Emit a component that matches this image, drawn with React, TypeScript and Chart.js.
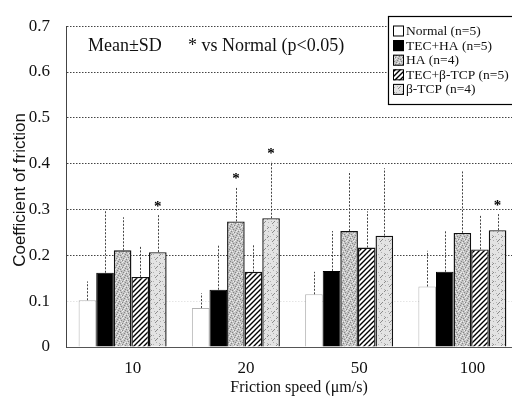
import React, { useEffect, useRef } from 'react';
import { Chart, registerables } from 'chart.js';
Chart.register(...registerables);

const speeds = ['10', '20', '50', '100'];
const seriesNames = ['Normal (n=5)', 'TEC+HA (n=5)', 'HA (n=4)', 'TEC+β-TCP (n=5)', 'β-TCP (n=4)'];
const normalMean = [0.102, 0.085, 0.115, 0.132];
const normalSD = [0.041, 0.032, 0.049, 0.078];
const tecHaMean = [0.162, 0.125, 0.166, 0.164];
const tecHaSD = [0.138, 0.098, 0.087, 0.089];
const haMean = [0.211, 0.274, 0.253, 0.249];
const haSD = [0.072, 0.075, 0.130, 0.134];
const tecTcpMean = [0.153, 0.164, 0.217, 0.213];
const tecTcpSD = [0.067, 0.059, 0.079, 0.075];
const tcpMean = [0.207, 0.281, 0.243, 0.255];
const tcpSD = [0.081, 0.123, 0.147, 0.036];
const normalSig = [false, false, false, false];
const tecHaSig = [false, false, false, false];
const haSig = [false, true, false, false];
const tecTcpSig = [false, false, false, false];
const tcpSig = [true, true, false, true];
const yMin = 0;
const yMax = 0.7;
const yStep = 0.1;
const yTitle = 'Coefficient of friction';
const xTitle = 'Friction speed (μm/s)';
const noteLeft = 'Mean±SD';
const noteRight = '* vs Normal (p<0.05)';

const SERIF = '"Liberation Serif", "Times New Roman", serif';

function makeTile(size: number, draw: (c: CanvasRenderingContext2D) => void): CanvasPattern | string {
  const cv = document.createElement('canvas');
  cv.width = size;
  cv.height = size;
  const c = cv.getContext('2d')!;
  draw(c);
  const ctx2 = document.createElement('canvas').getContext('2d')!;
  return ctx2.createPattern(cv, 'repeat') || '#ccc';
}

function makeStipple() {
  return makeTile(7, (c) => {
    c.fillStyle = '#c4c4c4';
    c.fillRect(0, 0, 7, 7);
    c.fillStyle = '#858585';
    [[0, 0], [3, 1], [1, 3], [5, 4], [2, 5], [6, 2], [4, 6]].forEach(([x, y]) => c.fillRect(x, y, 1, 1));
    c.fillStyle = '#ececec';
    [[2, 1], [5, 0], [0, 4], [3, 3], [6, 6], [1, 6], [4, 2]].forEach(([x, y]) => c.fillRect(x, y, 1, 1));
  });
}

function makeHatch() {
  return makeTile(5, (c) => {
    c.fillStyle = '#ffffff';
    c.fillRect(0, 0, 5, 5);
    c.strokeStyle = '#000';
    c.lineWidth = 1.4;
    c.beginPath();
    c.moveTo(-1, 6); c.lineTo(6, -1);
    c.moveTo(-1, 1); c.lineTo(1, -1);
    c.moveTo(4, 6); c.lineTo(6, 4);
    c.stroke();
  });
}

function makeLightDash() {
  return makeTile(9, (c) => {
    c.fillStyle = '#e3e3e3';
    c.fillRect(0, 0, 9, 9);
    c.fillStyle = '#b0b0b0';
    [[0, 2], [6, 1], [7, 6], [3, 0], [1, 5]].forEach(([x, y]) => c.fillRect(x, y, 1, 1));
    c.strokeStyle = '#8a8a8a';
    c.lineWidth = 1;
    c.beginPath();
    c.moveTo(2, 8); c.lineTo(5, 5);
    c.moveTo(6, 4); c.lineTo(8, 2);
    c.stroke();
  });
}

export default function App() {
  const ref = useRef<HTMLCanvasElement>(null);
  useEffect(() => {
    if (!ref.current) return;
    const means = [normalMean, tecHaMean, haMean, tecTcpMean, tcpMean];
    const sds = [normalSD, tecHaSD, haSD, tecTcpSD, tcpSD];
    const sigs = [normalSig, tecHaSig, haSig, tecTcpSig, tcpSig];
    const fills: any[] = ['#ffffff', '#000000', makeStipple(), makeHatch(), makeLightDash()];
    const borders = ['rgba(0,0,0,0.3)', '#000', '#111', '#111', '#111'];
    const bw = [1, 1, 1.4, 1.4, 1.4];

    const overlay = {
      id: 'overlay',
      afterDatasetsDraw(chart: any) {
        const ctx = chart.ctx;
        const ys = chart.scales.y;
        ctx.save();
        chart.data.datasets.forEach((_: any, i: number) => {
          const meta = chart.getDatasetMeta(i);
          meta.data.forEach((el: any, j: number) => {
            const top = ys.getPixelForValue(means[i][j] + sds[i][j]);
            ctx.strokeStyle = '#444';
            ctx.lineWidth = 1;
            ctx.setLineDash([2, 1.5]);
            ctx.beginPath();
            ctx.moveTo(Math.round(el.x) + 0.5, el.y);
            ctx.lineTo(Math.round(el.x) + 0.5, top);
            ctx.stroke();
            if (sigs[i][j]) {
              ctx.setLineDash([]);
              ctx.fillStyle = '#000';
              ctx.font = 'bold 15px ' + SERIF;
              ctx.textAlign = 'center';
              ctx.textBaseline = 'middle';
              ctx.fillText('*', el.x, top - 8);
            }
          });
        });
        ctx.restore();
      },
      afterDraw(chart: any) {
        const ctx = chart.ctx;
        ctx.save();
        ctx.setLineDash([]);
        ctx.fillStyle = '#111';
        ctx.textBaseline = 'middle';
        ctx.textAlign = 'left';
        ctx.font = '18px ' + SERIF;
        ctx.fillText(noteLeft, 88, 46);
        ctx.fillText(noteRight, 188, 46);
        // x title
        ctx.textAlign = 'center';
        ctx.font = '16px ' + SERIF;
        ctx.fillText(xTitle, 299, 388);
        // y title
        ctx.save();
        ctx.translate(20, 190);
        ctx.rotate(-Math.PI / 2);
        ctx.font = '17px "Liberation Sans", Arial, sans-serif';
        ctx.fillText(yTitle, 0, 0);
        ctx.restore();
        // legend
        const lx = 388, ly = 16, lw = 160, lh = 88;
        ctx.fillStyle = '#fff';
        ctx.fillRect(lx, ly, lw, lh);
        ctx.strokeStyle = '#000';
        ctx.lineWidth = 1.2;
        ctx.strokeRect(lx + 0.5, ly + 0.5, lw, lh);
        ctx.font = '13.5px ' + SERIF;
        ctx.textAlign = 'left';
        seriesNames.forEach((name, i) => {
          const cy = 31 + i * 14.6;
          ctx.fillStyle = fills[i];
          ctx.fillRect(393, cy - 5.5, 11, 11);
          ctx.strokeStyle = '#000';
          ctx.lineWidth = 1;
          ctx.strokeRect(393.5, cy - 5, 10, 10);
          ctx.fillStyle = '#111';
          ctx.fillText(name, 406, cy + 0.5);
        });
        ctx.restore();
      },
    };

    const chart = new Chart(ref.current, {
      type: 'bar',
      data: {
        labels: speeds,
        datasets: seriesNames.map((name, i) => ({
          label: name,
          data: means[i],
          backgroundColor: fills[i],
          borderColor: borders[i],
          borderWidth: bw[i],
          categoryPercentage: 0.777,
          barPercentage: 1,
        })),
      },
      options: {
        animation: false,
        responsive: false,
        layout: { padding: { top: 17, right: 21, left: 0, bottom: 0 } },
        plugins: { legend: { display: false }, tooltip: { enabled: false } },
        scales: {
          x: {
            grid: { display: false },
            border: { display: true, color: '#555', dash: [2, 2] },
            ticks: { font: { family: SERIF, size: 17 }, color: '#111', padding: 3, labelOffset: 10 },
            afterFit: (s: any) => { s.height = 53; },
          },
          y: {
            min: yMin,
            max: yMax,
            ticks: {
              stepSize: yStep,
              font: { family: SERIF, size: 17 },
              color: '#111',
              padding: 16,
              callback: (v: any) => (Math.abs(v) < 1e-9 ? '0' : Number(v).toFixed(1)),
            },
            grid: {
              drawTicks: false,
              color: (c: any) => (c.tick && Math.abs(c.tick.value - 0.1) < 1e-6 ? 'rgba(0,0,0,0.1)' : '#444'),
            },
            border: { display: true, color: '#444', dash: [1.5, 1.5] },
            afterFit: (s: any) => { s.width = 66; },
          },
        },
      },
      plugins: [overlay],
    } as any);
    return () => chart.destroy();
  }, []);
  return (
    <canvas
      ref={ref}
      width={540}
      height={400}
      style={{ position: 'fixed', left: 0, top: 0, width: 540, height: 400, background: '#fff' }}
    />
  );
}
